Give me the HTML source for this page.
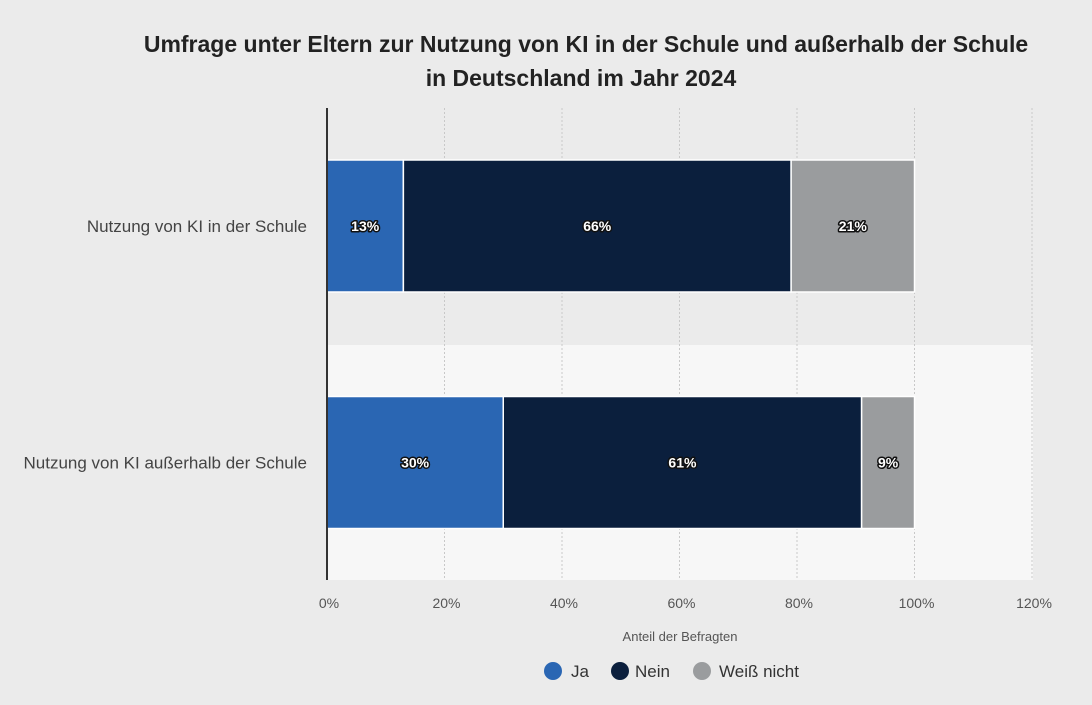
<!DOCTYPE html>
<html><head><meta charset="utf-8"><style>
body{margin:0;background:#ebebeb;font-family:"Liberation Sans",sans-serif;}
svg{display:block}
.val{font:bold 14px "Liberation Sans",sans-serif;fill:#fff;stroke:#111;stroke-width:3px;paint-order:stroke;stroke-linejoin:round}
</style></head><body>
<svg id="c" width="1092" height="705" xmlns="http://www.w3.org/2000/svg">
<rect width="1092" height="705" fill="#ebebeb"/>
<text x="586" y="52" text-anchor="middle" font-weight="bold" font-size="23" fill="#222">Umfrage unter Eltern zur Nutzung von KI in der Schule und außerhalb der Schule</text>
<text x="581" y="86" text-anchor="middle" font-weight="bold" font-size="23" fill="#222">in Deutschland im Jahr 2024</text>
<rect x="327" y="345" width="706" height="235" fill="#f7f7f7"/>
<g id="grid"></g><g id="bars"></g>
<line x1="327" y1="108" x2="327" y2="580" stroke="#333" stroke-width="2"/>
<text x="680" y="641" text-anchor="middle" font-size="13" fill="#555">Anteil der Befragten</text>
<g>
<circle cx="553" cy="671" r="9" fill="#2a66b3"/>
<text x="571" y="677" font-size="17" fill="#333">Ja</text>
<circle cx="620" cy="671" r="9" fill="#0b1f3d"/>
<text x="635" y="677" font-size="17" fill="#333">Nein</text>
<circle cx="702" cy="671" r="9" fill="#9a9c9e"/>
<text x="719" y="677" font-size="17" fill="#333">Weiß nicht</text>
</g>
</svg>
<script>
const categories=["Nutzung von KI in der Schule","Nutzung von KI außerhalb der Schule"];
const seriesNames=["Ja","Nein","Weiß nicht"];
const ja=[13,30];
const nein=[66,61];
const weiss=[21,9];
const ticks=[0,20,40,60,80,100,120];
const colors=["#2a66b3","#0b1f3d","#9a9c9e"];
const NS="http://www.w3.org/2000/svg";
const x=v=>327+v*(1032-327)/120;
const yc=i=>226+i*236.5;
const bh=132;
function mk(t,a,p){const e=document.createElementNS(NS,t);for(const k in a)e.setAttribute(k,a[k]);p.appendChild(e);return e;}
const g=document.getElementById('grid'),b=document.getElementById('bars');
ticks.forEach(t=>{
 if(t>0){const l=mk('line',{x1:x(t),x2:x(t),y1:108,y2:580,stroke:'#c8c8c8','stroke-dasharray':'2,2'},g);
 
 }
 const tx=mk('text',{x:x(t)+2,y:608,'text-anchor':'middle','font-size':14,fill:'#555'},g);tx.textContent=t+'%';
 
 
});
const series=[ja,nein,weiss];
categories.forEach((c,i)=>{
 const lab=mk('text',{x:307,y:yc(i)+6,'text-anchor':'end','font-size':17,fill:'#444'},b);lab.textContent=c;
 
 
 let acc=0;
 series.forEach((s,j)=>{
  const v=s[i];
  const r=mk('rect',{x:x(acc),y:yc(i)-bh/2,width:x(acc+v)-x(acc),height:bh,fill:colors[j],stroke:'#fff','stroke-width':1.5},b);
  
  
  const t=mk('text',{x:(x(acc)+x(acc+v))/2,y:yc(i)+5,'text-anchor':'middle',class:'val'},b);t.textContent=v+'%';
  
  
  acc+=v;
 });
});
</script>
</body></html>
